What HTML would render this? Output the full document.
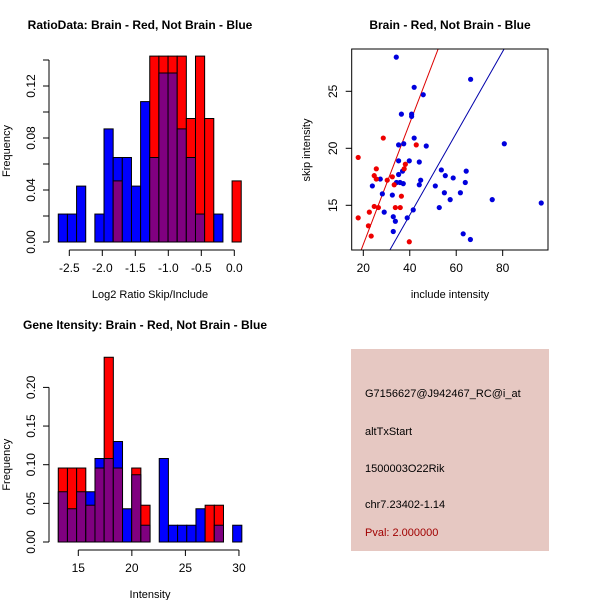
<!DOCTYPE html>
<html><head><meta charset="utf-8"><style>body{margin:0;background:#fff}svg{display:block;font-family:"Liberation Sans",sans-serif}</style></head>
<body>
<svg id="c" width="600" height="600" viewBox="0 0 600 600">
<rect width="600" height="600" fill="#fff"/>
<text x="140" y="29" font-size="12" font-weight="bold" text-anchor="middle">RatioData: Brain - Red, Not Brain - Blue</text>
<text x="450" y="29" font-size="12" font-weight="bold" text-anchor="middle">Brain - Red, Not Brain - Blue</text>
<text x="145" y="329" font-size="12" font-weight="bold" text-anchor="middle">Gene Itensity: Brain - Red, Not Brain - Blue</text>
<g id="p1"></g>
<g id="p2"></g>
<g id="p3"></g>
<rect x="351" y="349" width="198" height="202" fill="#e6c8c2"/>
<g font-size="11">
<text x="365" y="397">G7156627@J942467_RC@i_at</text>
<text x="365" y="435">altTxStart</text>
<text x="365" y="472">1500003O22Rik</text>
<text x="365" y="508">chr7.23402-1.14</text>
<text x="365" y="536" fill="#a00000">Pval: 2.000000</text>
</g>
</svg>
<script>
// ---- data: ratio histogram ----
const ratioStart = -2.667, ratioBinW = 0.1386;
const ratioBlue = [0.0215,0.0215,0.043,0,0.0215,0.087,0.065,0.065,0.043,0.108,0.065,0.13,0.13,0.087,0.065,0.0215,0,0.0215,0,0];
const ratioRed  = [0,0,0,0,0,0,0.047,0,0,0,0.143,0.143,0.143,0.143,0.095,0.143,0.095,0,0,0.047];
const ratioXTicks = [-2.5,-2.0,-1.5,-1.0,-0.5,0.0];
const ratioXLabels = ["-2.5","-2.0","-1.5","-1.0","-0.5","0.0"];
const ratioYTicks = [0,0.02,0.04,0.06,0.08,0.10,0.12,0.14];
const ratioYLabels = ["0.00","","0.04","","0.08","","0.12",""];
// ---- data: intensity histogram ----
const intStart = 13.13, intBinW = 0.857;
const intBlue = [0.065,0.043,0.065,0.065,0.108,0.108,0.130,0.043,0.087,0.0217,0,0.108,0.0217,0.0217,0.0217,0.043,0,0.0217,0,0.0217];
const intRed  = [0.0957,0.0957,0.0957,0.0476,0.0957,0.239,0.0957,0,0.0957,0.0476,0,0,0,0,0,0,0.0476,0.0476,0,0];
const intXTicks = [15,20,25,30];
const intYTicks = [0,0.05,0.10,0.15,0.20];
const intYLabels = ["0.00","0.05","0.10","0.15","0.20"];
// ---- data: scatter ----
const blueX = [34.2,66.2,41.9,45.8,36.4,40.8,40.8,41.9,35.2,37.4,47.1,80.7,35.2,39.8,44.1,36.9,35.2,27.3,23.9,34.3,35.8,37.2,44.7,44.1,28.2,32.5,51.0,53.6,55.3,58.7,54.9,61.8,63.9,64.3,57.4,52.7,75.5,96.6,29.0,32.9,33.8,38.9,41.5,32.9,63.0,66.1];
const blueY = [28.0,26.05,25.35,24.7,23.0,23.0,22.8,20.9,20.3,20.4,20.2,20.4,18.9,18.9,18.8,18.0,17.7,17.3,16.7,17.0,17.0,16.9,17.2,16.8,16.0,15.9,16.7,18.1,17.6,17.4,16.1,16.1,17.0,18.0,15.5,14.8,15.5,15.2,14.4,14.0,13.6,13.9,14.6,12.7,12.5,12.0];
const redX = [17.8,28.6,42.8,17.8,22.2,22.6,23.4,24.7,25.6,25.6,24.7,26.5,30.3,32.5,33.3,33.8,35.9,36.4,38.1,37.6,39.8];
const redY = [19.2,20.9,20.3,13.9,13.2,14.4,12.3,17.6,18.2,17.3,14.9,14.8,17.2,17.5,16.8,14.8,14.8,15.8,18.6,18.2,11.8];
const redFit = [0.93,0.532];   // intercept, slope
const blueFit = [-0.196,0.3586];
const scXTicks = [20,40,60,80];
const scYTicks = [15,20,25];

const NS="http://www.w3.org/2000/svg";
function mk(p,tag,a){const e=document.createElementNS(NS,tag);for(const k in a)e.setAttribute(k,a[k]);p.appendChild(e);return e;}

function hist(g,start,bw,blue,red,sx,sy,xt,xl,yt,yl,axY,xlab,xlabX){
  for(let i=0;i<blue.length;i++){
    const x0=sx(start+i*bw),x1=sx(start+(i+1)*bw);
    const b=blue[i],r=red[i];
    const hi=Math.max(b,r),lo=Math.min(b,r);
    if(hi>0){
      const e=mk(g,'rect',{x:x0,y:sy(hi),width:x1-x0,height:sy(0)-sy(hi),fill:b>=r?'#0000ff':'#ff0000',stroke:'#000','stroke-width':1});
      
      
    }
    if(lo>0){
      const e=mk(g,'rect',{x:x0,y:sy(lo),width:x1-x0,height:sy(0)-sy(lo),fill:'#800080',stroke:'#000','stroke-width':1});
      
      
    }
  }
  const xa=mk(g,'g',{});
  
  
  mk(xa,'line',{x1:sx(xt[0]),x2:sx(xt[xt.length-1]),y1:axY,y2:axY,stroke:'#000'});
  xt.forEach((v,i)=>{mk(xa,'line',{x1:sx(v),x2:sx(v),y1:axY,y2:axY+6,stroke:'#000'});
    const t=mk(xa,'text',{x:sx(v),y:axY+22,'font-size':12,'text-anchor':'middle'});t.textContent=xl[i];});
  const ya=mk(g,'g',{});
  
  
  mk(ya,'line',{x1:49,x2:49,y1:sy(yt[0]),y2:sy(yt[yt.length-1]),stroke:'#000'});
  yt.forEach((v,i)=>{mk(ya,'line',{x1:43,x2:49,y1:sy(v),y2:sy(v),stroke:'#000'});
    if(yl[i]){const t=mk(ya,'text',{x:35,y:sy(v),'font-size':12,'text-anchor':'middle',transform:`rotate(-90 35 ${sy(v)})`});t.textContent=yl[i];}});
  const t1=mk(g,'text',{x:xlabX,y:axY+48,'font-size':11,'text-anchor':'middle'});t1.textContent=xlab;
  
  
  const cy=(sy(yt[0])+sy(yt[yt.length-1]))/2;
  const t2=mk(g,'text',{x:10,y:cy,'font-size':11,'text-anchor':'middle',transform:`rotate(-90 10 ${cy})`});t2.textContent='Frequency';
  
  
}

// plot 1
hist(document.getElementById('p1'),ratioStart,ratioBinW,ratioBlue,ratioRed,
  v=>69.3+(v+2.5)*66, v=>242-v*1300, ratioXTicks,ratioXLabels,ratioYTicks,ratioYLabels,250,'Log2 Ratio Skip/Include',150);
// plot 3
hist(document.getElementById('p3'),intStart,intBinW,intBlue,intRed,
  v=>78.3+(v-15)*10.71, v=>542-v*773, intXTicks,intXTicks.map(String),intYTicks,intYLabels,550,'Intensity',150);

// plot 2 scatter
(function(){
  const g=document.getElementById('p2');
  const sx=v=>363.3+(v-20)*2.323, sy=v=>205.3-(v-15)*11.4;
  const L=351.7,R=548,T=49,B=250;
  const cp=mk(g,'clipPath',{id:'sc'});mk(cp,'rect',{x:L,y:T,width:R-L,height:B-T});
  [[redFit,'#dd0000','red-fit-line'],[blueFit,'#0000aa','blue-fit-line']].forEach(([f,c,n])=>{
    const x0=15,x1=100;
    const l=mk(g,'line',{x1:sx(x0),y1:sy(f[0]+f[1]*x0),x2:sx(x1),y2:sy(f[0]+f[1]*x1),stroke:c,'clip-path':'url(#sc)'});
    
    
  });
  blueX.forEach((x,i)=>{const c=mk(g,'circle',{cx:sx(x),cy:sy(blueY[i]),r:2.6,fill:'#0000dd'});
    
    });
  redX.forEach((x,i)=>{const c=mk(g,'circle',{cx:sx(x),cy:sy(redY[i]),r:2.6,fill:'#ee0000'});
    
    });
  const box=mk(g,'rect',{x:L,y:T,width:R-L,height:B-T,fill:'none',stroke:'#000'});
  
  
  scXTicks.forEach(v=>{mk(g,'line',{x1:sx(v),x2:sx(v),y1:B,y2:B+6,stroke:'#000'});
    const t=mk(g,'text',{x:sx(v),y:B+22,'font-size':12,'text-anchor':'middle'});t.textContent=v;});
  scYTicks.forEach(v=>{mk(g,'line',{x1:L-6,x2:L,y1:sy(v),y2:sy(v),stroke:'#000'});
    const t=mk(g,'text',{x:337,y:sy(v),'font-size':12,'text-anchor':'middle',transform:`rotate(-90 337 ${sy(v)})`});t.textContent=v;});
  const xt=mk(g,'text',{x:450,y:298,'font-size':11,'text-anchor':'middle'});xt.textContent='include intensity';
  
  
  const yt=mk(g,'text',{x:310,y:150,'font-size':11,'text-anchor':'middle',transform:'rotate(-90 310 150)'});yt.textContent='skip intensity';
  
  
})();
</script>
</body></html>
